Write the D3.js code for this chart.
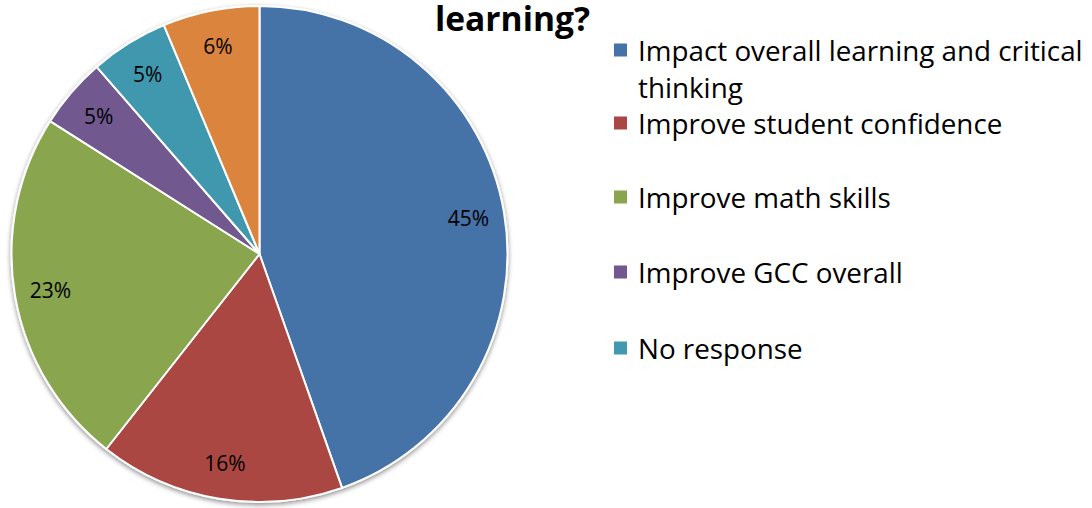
<!DOCTYPE html>
<html><head><meta charset="utf-8">
<script src="https://cdn.jsdelivr.net/npm/d3@7"></script>
<style>html,body{margin:0;padding:0;background:#fff;}svg{display:block;}</style>
</head><body>
<svg id="c" width="1092" height="508"></svg>
<script>
const categories = ["Impact overall learning and critical thinking","Improve student confidence","Improve math skills","Improve GCC overall","No response","Other"];
const values = [44.6, 16.0, 23.4, 4.6, 5.1, 6.3];
const colors = ["#4572A7","#AA4643","#89A54E","#71588F","#4198AF","#DB843D"];
const legendLines = [["Impact overall learning and critical","thinking"],["Improve student confidence"],["Improve math skills"],["Improve GCC overall"],["No response"]];
const titleText = "learning?";

const svg = d3.select("#c");
const font = "'Open Sans', 'Noto Sans', sans-serif";
const cx = 259.5, cy = 254, R = 248;

const defs = svg.append("defs");
const f = defs.append("filter").attr("id","sh").attr("x","-10%").attr("y","-10%").attr("width","120%").attr("height","120%");
f.append("feGaussianBlur").attr("in","SourceAlpha").attr("stdDeviation",2.5).attr("result","b");
f.append("feOffset").attr("in","b").attr("dx",0).attr("dy",1.5).attr("result","o");
f.append("feComponentTransfer").attr("in","o").attr("result","o2").append("feFuncA").attr("type","linear").attr("slope",0.45);
const m = f.append("feMerge"); m.append("feMergeNode").attr("in","o2"); m.append("feMergeNode").attr("in","SourceGraphic");

const pie = d3.pie().sort(null).value(d=>d);
const arcs = pie(values);
const arc = d3.arc().innerRadius(0).outerRadius(R);
const labelArc = d3.arc().innerRadius(212).outerRadius(212);

const g = svg.append("g").attr("transform",`translate(${cx},${cy})`);
g.append("g").attr("filter","url(#sh)").selectAll("path").data(arcs).join("path")
  .attr("d",arc).attr("fill",(d,i)=>colors[i]).attr("stroke","#fff").attr("stroke-width",2).attr("stroke-linejoin","round");
g.selectAll("text").data(arcs).join("text")
  .attr("transform",d=>`translate(${labelArc.centroid(d)})`)
  .attr("text-anchor","middle").attr("dominant-baseline","central")
  .style("font-family",font).style("font-size","21px").attr("fill","#000")
  .text(d=>Math.round(d.data)+"%");

// title
const t = svg.append("text").attr("x",435).attr("y",31).style("font-family",font)
  .style("font-weight","bold").style("font-size","34px").attr("fill","#000").text(titleText);
const tw = t.node().getComputedTextLength();
t.style("font-size",(34*155/tw)+"px");

// legend
const lg = svg.append("g");
const slotY = [50,123,197,272,348];
legendLines.forEach((lines,i)=>{
  lg.append("rect").attr("x",614).attr("y",slotY[i]-6.5).attr("width",13).attr("height",13).attr("fill",colors[i]);
  lines.forEach((ln,j)=>{
    lg.append("text").attr("class","lt").attr("x",638).attr("y",slotY[i]+j*37).attr("dominant-baseline","central")
      .style("font-family",font).style("font-size","24px").attr("fill","#000").text(ln);
  });
});
const first = lg.select("text.lt").node();
const w0 = first.getComputedTextLength();
const fs = 24*445/w0;
lg.selectAll("text.lt").style("font-size",fs+"px");
</script>
</body></html>
